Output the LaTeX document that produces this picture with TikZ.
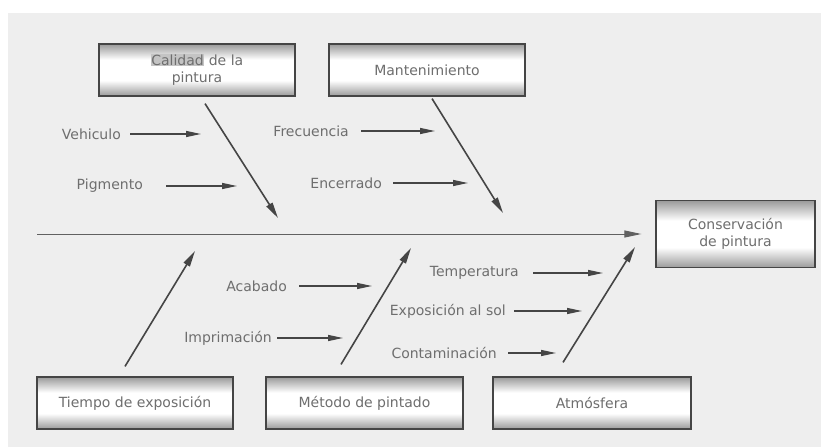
\documentclass[tikz,border=0pt]{standalone}
\usepackage{fontspec}
\setmainfont{DejaVu Sans}
\usetikzlibrary{arrows.meta,positioning}
\definecolor{bggray}{HTML}{EEEEEE}
\definecolor{txtgray}{HTML}{6E6E6E}
\definecolor{linegray}{HTML}{454545}
\definecolor{boxgray}{HTML}{9A9A9A}
\definecolor{markgray}{HTML}{C4C4C4}
\pgfdeclareverticalshading{boxshade}{100bp}{color(0bp)=(boxgray); color(25bp)=(boxgray);
    color(40bp)=(white); color(60bp)=(white); color(75bp)=(boxgray); color(100bp)=(boxgray)}

\begin{document}
\begin{tikzpicture}[x=1pt, y=-1pt]
    \tikzset{
        category/.style={draw=linegray, line width=1.2pt, shading=boxshade,
            minimum width=196pt, minimum height=52pt, inner sep=0pt,
            align=center, text=txtgray, font=\fontsize{14}{17}\selectfont},
        cause/.style={text=txtgray, inner sep=0pt, font=\fontsize{14}{16}\selectfont},
        bone/.style={draw=linegray, line width=1.6pt, -{Triangle[length=16pt,width=7pt]}},
        twig/.style={draw=linegray, line width=1.3pt, -{Triangle[length=15pt,width=6pt]}},
        spine/.style={draw=linegray!85, line width=1pt, -{Triangle[length=17pt,width=7pt]}}
    }
    \setlength{\fboxsep}{0.6pt}

    \useasboundingbox (0,0) rectangle (823,447);
    \fill[bggray] (8,13) rectangle (821,447);

    % categories and effect
    \draw node[category] (cal) at (197,70) {\colorbox{markgray}{Calidad} de la\\pintura};
    \draw node[category] (man) at (427,70) {Mantenimiento};
    \draw node[category, minimum width=159pt, minimum height=67pt] (eff) at (735.5,234) {Conservación\\de pintura};
    \draw node[category] (tie) at (135,403) {Tiempo de exposición};
    \draw node[category, minimum width=197pt] (met) at (364.5,403) {Método de pintado};
    \draw node[category, minimum width=198pt] (atm) at (592,403) {Atmósfera};

    % spine
    \coordinate (tail) at (37,234);
    \draw[spine] (tail) -- ([xshift=-14pt]eff.west);

    % bones
    \coordinate (calT) at (278,218);
    \coordinate (manT) at (503,213);
    \coordinate (tieT) at (195,251);
    \coordinate (metT) at (411,248);
    \coordinate (atmT) at (635,247);

    \foreach \b/\dx/\dy/\a in {%
        cal/8/7/south, man/5/2/south, tie/-10/-10/north, met/-23.5/-12/north, atm/-29/-14/north%
    }{
        \draw[bone] ([shift={(\dx,\dy)}]\b.\a) -- (\b T);
    }

    % causes
    \foreach \n/\xa/\xb/\y/\g/\t in {%
        veh/130/201/134/9/Vehiculo,
        pig/166/237/186/23/Pigmento,
        fre/361/435/131/12/Frecuencia,
        enc/393/468/183/11/Encerrado,
        aca/299/372/286/12/Acabado,
        imp/277/343/338/5/Imprimación,
        tem/533/603/273/14/Temperatura,
        exp/514/582/311/8/Exposición al sol,
        con/508/556/353/11/Contaminación%
    }{
        \coordinate (\n A) at (\xa,\y);
        \coordinate (\n B) at (\xb,\y);
        \node[cause, left=\g pt of \n A] (\n) {\t};
        \draw[twig] (\n A) -- (\n B);
    }
\end{tikzpicture}
\end{document}
